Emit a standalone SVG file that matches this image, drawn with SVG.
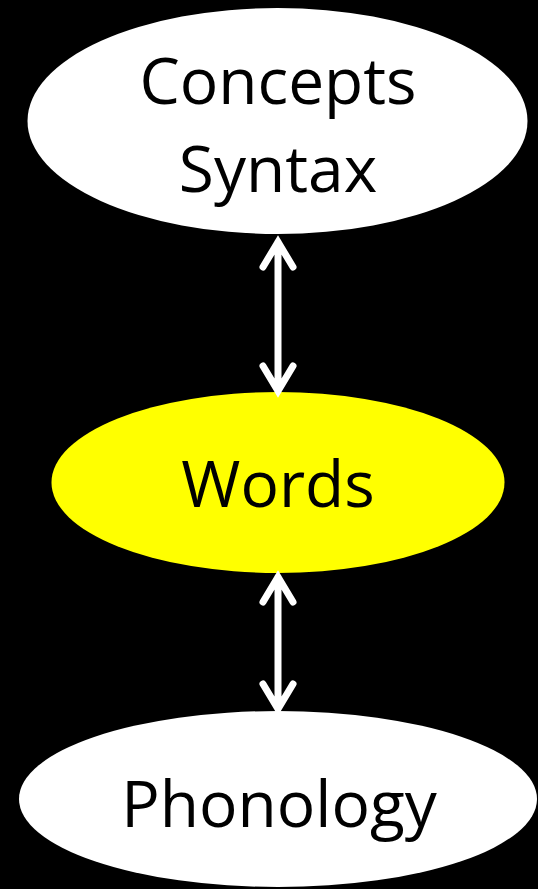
<svg xmlns="http://www.w3.org/2000/svg" width="538" height="889" viewBox="0 0 538 889">
<style>
.lbl{font-family:"Open Sans","Liberation Sans",sans-serif;font-size:64px;fill:#000;text-anchor:middle}
.arr{stroke:#fff;stroke-width:7;fill:none;stroke-linecap:round;stroke-linejoin:miter}
</style>
<rect width="538" height="889" fill="#000"/>
<g id="concepts">
<ellipse cx="277.5" cy="121" rx="250" ry="113" fill="#fff"/>
<text class="lbl" x="278" y="104">Concepts</text>
<text class="lbl" x="278" y="192">Syntax</text>
</g>
<g id="words">
<ellipse cx="278" cy="482.5" rx="226.5" ry="90.5" fill="#ff0"/>
<text class="lbl" x="278" y="507">Words</text>
</g>
<g id="phonology">
<ellipse cx="278" cy="799" rx="259" ry="88" fill="#fff"/>
<text class="lbl" x="279" y="827">Phonology</text>
</g>
<g id="connectors">
<path class="arr" d="M278 242 V388 M263 267 L278 242 L293 267 M263 366 L278 391 L293 366"/>
<path class="arr" d="M278 577 V707 M263 602 L278 577 L293 602 M263 684 L278 709 L293 684"/>
</g>
</svg>
